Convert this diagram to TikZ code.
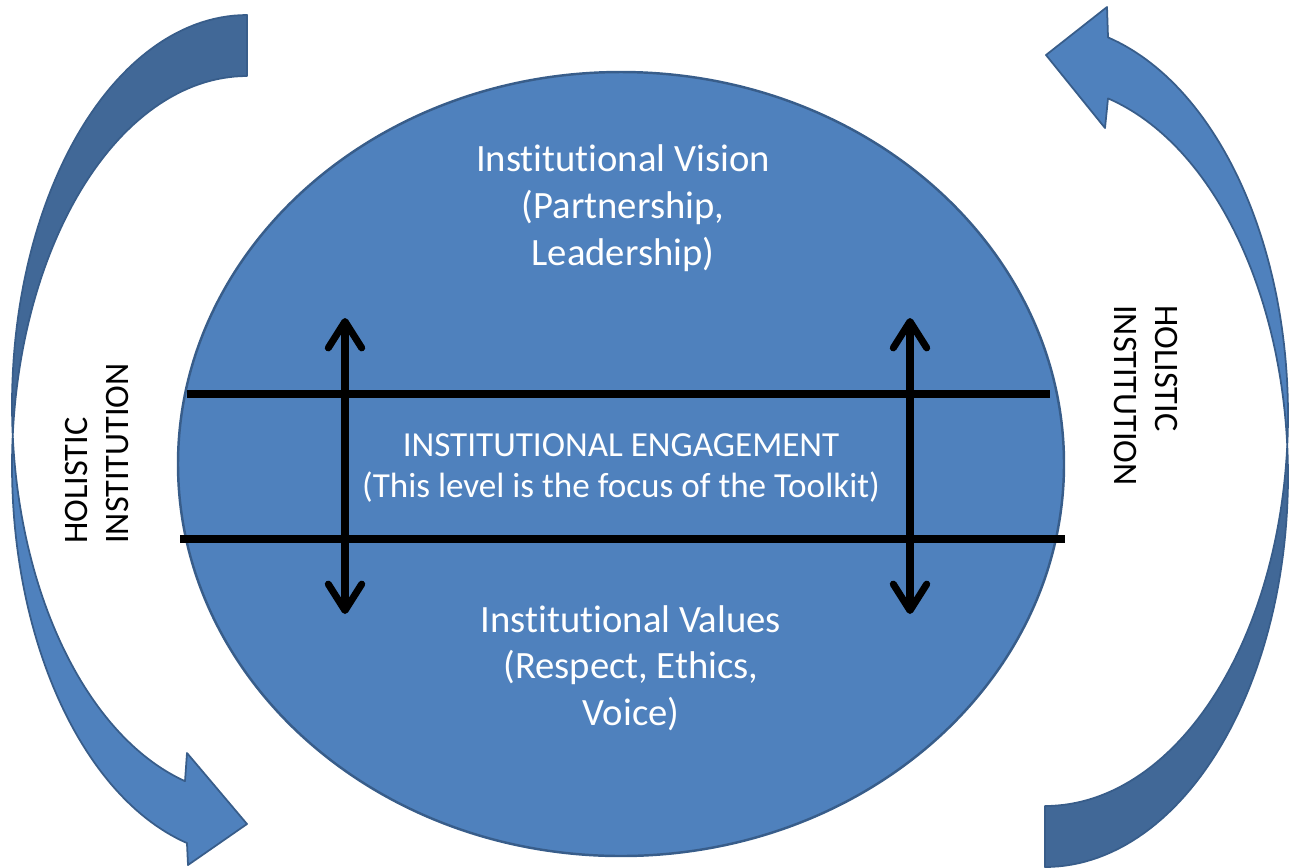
\documentclass[tikz,border=0pt]{standalone}
\usepackage{fontspec}
\setmainfont{Carlito}[Ligatures=CommonOff]
\usetikzlibrary{arrows.meta}
\definecolor{officeblue}{HTML}{4F81BD}
\definecolor{officeedge}{HTML}{385D8A}
\definecolor{officeshade}{HTML}{416897}

\begin{document}
\begin{tikzpicture}[x=0.02cm, y=-0.02cm,
    levelline/.style={line width=4.5pt},
    levelarrow/.style={line width=4pt,
      {Straight Barb[round,length=15pt,width=19pt]}-{Straight Barb[round,length=15pt,width=19pt]}},
    ribbon/.style={draw=officeedge, line width=1pt, line join=round},
    circletext/.style={text=white, align=center, inner sep=0pt,
      font=\fontsize{22}{26.6}\selectfont},
    sidetext/.style={align=left, inner sep=0pt,
      font=\fontsize{19.5}{23.5}\selectfont}]
    \useasboundingbox (0,0) rectangle (1298,867);

    % Left curved arrow: back face first, then front face with the head
    \filldraw[ribbon, fill=officeshade]
      plot[domain=175.44:270, samples=60] ({247+235*cos(\x)},{405+390*sin(\x)})
      -- plot[domain=270:184.41, samples=60] ({247+235*cos(\x)},{466+390*sin(\x)}) -- cycle;
    \filldraw[ribbon, fill=officeblue]
      plot[domain=175.44:105.3, samples=60] ({247+235*cos(\x)},{405+390*sin(\x)})
      -- (187,753) -- (247,824) -- (188,865)
      -- plot[domain=104.8:184.41, samples=60] ({247+235*cos(\x)},{466+390*sin(\x)}) -- cycle;

    % Right curved arrow: back face first, then front face with the head
    \filldraw[ribbon, fill=officeshade]
      plot[domain=4.55:90, samples=60] ({1045+243*cos(\x)},{415+391*sin(\x)})
      -- plot[domain=90:-4.4, samples=60] ({1045+243*cos(\x)},{476+391*sin(\x)}) -- cycle;
    \filldraw[ribbon, fill=officeblue]
      plot[domain=4.55:-74.97, samples=60] ({1045+243*cos(\x)},{415+391*sin(\x)})
      -- (1107,7) -- (1046,55) -- (1105,128)
      -- plot[domain=-74.97:-4.4, samples=60] ({1045+243*cos(\x)},{476+391*sin(\x)}) -- cycle;

    % The institution
    \filldraw[fill=officeblue, draw=officeedge, line width=1.4pt]
      (621,464) ellipse [x radius=443, y radius=392];

    % Engagement band
    \coordinate (upper west) at (187,394);
    \coordinate (upper east) at (1050,394);
    \coordinate (lower west) at (180,539);
    \coordinate (lower east) at (1065,539);
    \draw[levelline] (upper west) -- (upper east);
    \draw[levelline] (lower west) -- (lower east);

    % Two-way arrows between the levels
    \foreach \ax/\nm in {345/left, 910/right}
      {
        \coordinate (\nm top) at (\ax,318);
        \coordinate (\nm bottom) at (\ax,614);
        \draw[levelarrow] (\nm top) -- (\nm bottom);
      }

    % Labels
    \node[circletext] (vision) at (623,208) {Institutional Vision\\(Partnership,\\Leadership)};
    \node[circletext, font=\fontsize{20}{23.4}\selectfont] (engagement) at (621,468)
      {INSTITUTIONAL ENGAGEMENT\\(This level is the focus of the Toolkit)};
    \node[circletext] (values) at (631,668) {Institutional Values\\(Respect, Ethics,\\Voice)};

    % Side labels
    \node[sidetext, rotate=90, anchor=west] (holistic left) at (97,544) {HOLISTIC\\INSTITUTION};
    \node[sidetext, rotate=-90, anchor=west] (holistic right) at (1146,305) {HOLISTIC\\INSTITUTION};
\end{tikzpicture}
\end{document}
